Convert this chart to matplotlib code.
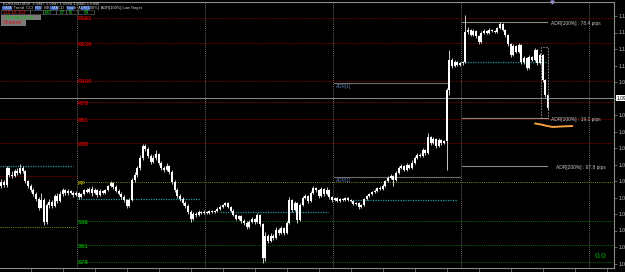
import matplotlib
matplotlib.use("Agg")
import matplotlib.pyplot as plt
import matplotlib.transforms as mtransforms
from matplotlib.patches import Rectangle

plt.rcParams['font.family'] = ['Liberation Sans', 'DejaVu Sans']

# ---------------- data ----------------
first_open = 1.0788
closes = [
    1.0796, 1.0790, 1.0824, 1.0810, 1.0808, 1.0818, 1.0814, 1.0824, 1.0818, 1.0798,
    1.0788, 1.0780, 1.0772, 1.0762, 1.0744, 1.0760, 1.0716, 1.0750, 1.0756, 1.0748,
    1.0768, 1.0758, 1.0772, 1.0780, 1.0774, 1.0778, 1.0774, 1.0770, 1.0774,
    1.0766, 1.0772, 1.0780, 1.0776, 1.0782, 1.0774, 1.0780, 1.0770, 1.0778, 1.0774,
    1.0780, 1.0788, 1.0794, 1.0786, 1.0778, 1.0772, 1.0766, 1.0760, 1.0748, 1.0760,
    1.0800, 1.0810, 1.0824, 1.0844, 1.0868, 1.0862, 1.0848, 1.0836, 1.0844, 1.0852,
    1.0834, 1.0824, 1.0820, 1.0828, 1.0816, 1.0796, 1.0780, 1.0768, 1.0762, 1.0754,
    1.0748, 1.0736, 1.0722, 1.0732, 1.0730, 1.0736, 1.0734, 1.0736,
    1.0734, 1.0738, 1.0736, 1.0738, 1.0742, 1.0746, 1.0750, 1.0754, 1.0746, 1.0738,
    1.0730, 1.0722, 1.0728, 1.0718, 1.0714, 1.0706, 1.0716, 1.0722, 1.0716, 1.0730,
    1.0712, 1.0644, 1.0688, 1.0678, 1.0688, 1.0684, 1.0700, 1.0694, 1.0704, 1.0694,
    1.0714, 1.0760, 1.0740, 1.0754, 1.0720, 1.0750, 1.0764, 1.0768, 1.0758, 1.0774,
    1.0784, 1.0780, 1.0768, 1.0782, 1.0772, 1.0780, 1.0766, 1.0760,
    1.0764, 1.0758, 1.0762, 1.0760, 1.0764, 1.0760, 1.0758, 1.0752, 1.0754, 1.0746,
    1.0750, 1.0762, 1.0768, 1.0772, 1.0776, 1.0778, 1.0784, 1.0782, 1.0788, 1.0798,
    1.0804, 1.0808, 1.0800, 1.0814, 1.0824, 1.0828, 1.0820, 1.0830, 1.0824, 1.0834,
    1.0844, 1.0850, 1.0848, 1.0860, 1.0854, 1.0886, 1.0874, 1.0882, 1.0868, 1.0880,
    1.0874, 1.0878, 1.0980, 1.1040, 1.1028, 1.1036, 1.1030, 1.1034,
    1.1036, 1.1096, 1.1100, 1.1090, 1.1098, 1.1088, 1.1076, 1.1094, 1.1098, 1.1094,
    1.1100, 1.1098, 1.1096, 1.1104, 1.1112, 1.1100, 1.1090, 1.1072, 1.1050, 1.1068,
    1.1056, 1.1070, 1.1036, 1.1044, 1.1024, 1.1046, 1.1040, 1.1060, 1.1034, 1.1050,
    1.1000, 1.0970, 1.0944,
]
highs = [
    1.0802, 1.0800, 1.0828, 1.0826, 1.0818, 1.0822, 1.0824, 1.0832, 1.0828, 1.0820,
    1.0800, 1.0792, 1.0784, 1.0776, 1.0766, 1.0774, 1.0764, 1.0754, 1.0762, 1.0760,
    1.0772, 1.0774, 1.0778, 1.0784, 1.0782, 1.0782, 1.0780, 1.0778, 1.0778,
    1.0776, 1.0774, 1.0782, 1.0784, 1.0786, 1.0788, 1.0784, 1.0782, 1.0782, 1.0780,
    1.0782, 1.0790, 1.0798, 1.0796, 1.0790, 1.0782, 1.0776, 1.0770, 1.0762, 1.0764,
    1.0804, 1.0816, 1.0828, 1.0850, 1.0872, 1.0872, 1.0866, 1.0852, 1.0850, 1.0860,
    1.0854, 1.0838, 1.0828, 1.0834, 1.0830, 1.0820, 1.0800, 1.0784, 1.0772, 1.0766,
    1.0758, 1.0752, 1.0740, 1.0736, 1.0736, 1.0740, 1.0738, 1.0740,
    1.0738, 1.0740, 1.0740, 1.0740, 1.0746, 1.0750, 1.0752, 1.0756, 1.0756, 1.0748,
    1.0742, 1.0732, 1.0730, 1.0730, 1.0722, 1.0718, 1.0720, 1.0726, 1.0724, 1.0734,
    1.0732, 1.0714, 1.0696, 1.0692, 1.0694, 1.0692, 1.0706, 1.0704, 1.0708, 1.0706,
    1.0718, 1.0766, 1.0762, 1.0758, 1.0756, 1.0754, 1.0768, 1.0772, 1.0770, 1.0778,
    1.0788, 1.0786, 1.0782, 1.0786, 1.0784, 1.0786, 1.0782, 1.0768,
    1.0766, 1.0766, 1.0764, 1.0764, 1.0766, 1.0766, 1.0762, 1.0760, 1.0756, 1.0756,
    1.0752, 1.0764, 1.0770, 1.0774, 1.0778, 1.0782, 1.0786, 1.0788, 1.0792, 1.0800,
    1.0808, 1.0812, 1.0810, 1.0818, 1.0828, 1.0832, 1.0830, 1.0834, 1.0832, 1.0840,
    1.0848, 1.0854, 1.0854, 1.0864, 1.0862, 1.0894, 1.0888, 1.0886, 1.0884, 1.0884,
    1.0882, 1.0880, 1.0984, 1.1060, 1.1044, 1.1040, 1.1038, 1.1036,
    1.1038, 1.1130, 1.1106, 1.1102, 1.1102, 1.1100, 1.1090, 1.1098, 1.1102, 1.1100,
    1.1104, 1.1102, 1.1100, 1.1106, 1.1116, 1.1114, 1.1102, 1.1092, 1.1074, 1.1072,
    1.1070, 1.1074, 1.1072, 1.1048, 1.1046, 1.1050, 1.1048, 1.1064, 1.1062, 1.1054,
    1.1052, 1.1002, 1.0972,
]
lows = [
    1.0784, 1.0786, 1.0786, 1.0806, 1.0804, 1.0806, 1.0810, 1.0812, 1.0814, 1.0794,
    1.0784, 1.0776, 1.0768, 1.0758, 1.0740, 1.0744, 1.0710, 1.0712, 1.0744, 1.0744,
    1.0746, 1.0754, 1.0756, 1.0768, 1.0770, 1.0770, 1.0772, 1.0766, 1.0768,
    1.0762, 1.0764, 1.0770, 1.0774, 1.0774, 1.0768, 1.0772, 1.0766, 1.0768, 1.0772,
    1.0772, 1.0778, 1.0786, 1.0782, 1.0776, 1.0770, 1.0762, 1.0756, 1.0744, 1.0746,
    1.0758, 1.0796, 1.0806, 1.0820, 1.0840, 1.0858, 1.0844, 1.0832, 1.0834, 1.0840,
    1.0830, 1.0820, 1.0816, 1.0818, 1.0812, 1.0792, 1.0776, 1.0764, 1.0758, 1.0750,
    1.0744, 1.0732, 1.0716, 1.0720, 1.0726, 1.0728, 1.0732, 1.0732,
    1.0732, 1.0732, 1.0734, 1.0734, 1.0736, 1.0740, 1.0744, 1.0748, 1.0744, 1.0736,
    1.0728, 1.0720, 1.0720, 1.0714, 1.0710, 1.0702, 1.0704, 1.0714, 1.0712, 1.0714,
    1.0708, 1.0634, 1.0638, 1.0674, 1.0676, 1.0680, 1.0682, 1.0690, 1.0692, 1.0690,
    1.0692, 1.0712, 1.0736, 1.0738, 1.0714, 1.0718, 1.0748, 1.0762, 1.0754, 1.0756,
    1.0772, 1.0776, 1.0764, 1.0766, 1.0768, 1.0770, 1.0762, 1.0756,
    1.0758, 1.0756, 1.0756, 1.0758, 1.0758, 1.0758, 1.0756, 1.0750, 1.0750, 1.0742,
    1.0744, 1.0748, 1.0760, 1.0766, 1.0770, 1.0774, 1.0776, 1.0780, 1.0780, 1.0786,
    1.0796, 1.0802, 1.0788, 1.0798, 1.0812, 1.0822, 1.0818, 1.0818, 1.0822, 1.0822,
    1.0832, 1.0842, 1.0846, 1.0846, 1.0850, 1.0852, 1.0870, 1.0872, 1.0864, 1.0866,
    1.0870, 1.0872, 1.0820, 1.0970, 1.1024, 1.1026, 1.1028, 1.1028,
    1.1030, 1.1034, 1.1092, 1.1088, 1.1088, 1.1084, 1.1072, 1.1074, 1.1092, 1.1092,
    1.1092, 1.1096, 1.1094, 1.1094, 1.1102, 1.1098, 1.1086, 1.1068, 1.1046, 1.1048,
    1.1054, 1.1054, 1.1032, 1.1032, 1.1020, 1.1022, 1.1038, 1.1038, 1.1030, 1.1032,
    1.0996, 1.0966, 1.0940,
]

day_breaks = [28.5, 76.5, 124.5, 172.5, 220.5]
time_ticks = list(range(11, 230, 12))
price_ticks = [1.1128, 1.1095, 1.1062, 1.1029, 1.0996, 1.0963, 1.0930, 1.0897,
               1.0864, 1.0831, 1.0798, 1.0765, 1.0732, 1.0699, 1.0666, 1.0633]
bid_price = 1.0964

pivot_names = ["R161", "R138", "R100", "R78", "R61", "R38", "PP", "S38", "S61", "S78"]
pivot_prices = [1.1124, 1.1074, 1.0998, 1.0956, 1.0922, 1.0874, 1.0796, 1.0718, 1.0670, 1.0636]
pivot_start = [28.5, -0.5, -0.5, 28.5, -0.5, -0.5, 28.5, 28.5, 28.5, 28.5]

prev_red = 1.0808
prev_yellow = 1.0706

cyan_prices = [1.0828, 1.0762, 1.0736, 1.0760, 1.1036]
cyan_from = [-0.5, 28.8, 82.0, 130.8, 172.0]
cyan_to = [26.9, 74.5, 122.5, 170.9, 205.0]

adr1_prices = [1.0994, 1.0806]
adr1_from = [124.8, 124.8]
adr1_to = [167.1, 172.0]

adr_labels = ["ADR[100%] : 78.4 pips", "ADR[100%] : 19.1 pips", "ADR[200%] : 67.8 pips"]
adr_prices = [1.1116, 1.0924, 1.0828]
adr_label_x = [206.1, 206.1, 208.0]

box_x = [202.4, 205.0]
box_p = [1.1066, 1.0924]

highlight_x = [200.1, 202.4, 204.7, 206.7, 209.7, 214.1]
highlight_p = [1.0913, 1.0911, 1.0908, 1.0906, 1.0907, 1.0908]

# ---------------- figure ----------------
fig = plt.figure(figsize=(6.25, 2.72), dpi=100, facecolor='black')
ax = fig.add_axes([0, 4 / 272, 614 / 625, 266 / 272])
ax.set_facecolor('black')
ax.set_xlim(-0.5, 229.7)
ax.set_ylim(1.0624, 1.1156)

# day separators
for xb in day_breaks:
    ax.axvline(xb, color='#8c8c8c', lw=0.6, ls=(0, (1, 1.5)), zorder=1)

# pivot levels
red_c, yel_c, grn_c = '#8a0000', '#8c8c00', '#0a6e0a'
for name, p, s in zip(pivot_names, pivot_prices, pivot_start):
    if name.startswith('R'):
        c, tc = red_c, '#c80000'
    elif name == 'PP':
        c, tc = yel_c, '#a8a000'
    else:
        c, tc = grn_c, '#00a000'
    ax.plot([s, 229.7], [p, p], color=c, lw=0.7, ls=(0, (1, 1.2)), zorder=1)
    ax.text(28.6, p - 0.0002, name, color=tc, fontsize=4.3, fontweight='bold',
            ha='left', va='center', zorder=2)

ax.plot([-0.5, 28.0], [prev_red, prev_red], color=red_c, lw=0.7, ls=(0, (1, 1.2)), zorder=1)
ax.plot([-0.5, 28.0], [prev_yellow, prev_yellow], color=yel_c, lw=0.7, ls=(0, (1, 1.2)), zorder=1)

for p, a, b in zip(cyan_prices, cyan_from, cyan_to):
    ax.plot([a, b], [p, p], color='#1f9a9a', lw=0.9, ls=(0, (1, 1)), zorder=1)

# bid line
ax.axhline(bid_price, color='#8a8a8a', lw=0.7, zorder=1)

# ADR lines
for p, a, b in zip(adr1_prices, adr1_from, adr1_to):
    ax.plot([a, b], [p, p], color='#6e6e6e', lw=0.8, zorder=1)
    ax.text(a + 0.6, p - 0.00025, "ADR[1]", color='#5a7ab4', fontsize=3.4,
            ha='left', va='top', zorder=2)
for lab, p, lx in zip(adr_labels, adr_prices, adr_label_x):
    ax.plot([172.8, 204.6], [p, p], color='#8a8a8a', lw=0.8, zorder=1)
    ax.text(lx, p - 0.0003, lab, color='#c8c8c8', fontsize=3.5,
            ha='left', va='center', zorder=2)

# candles
n = len(closes)
xs = list(range(n))
opens = [first_open] + closes[:-1]
ax.vlines(xs, lows, highs, color='#e8e8e8', lw=0.6, zorder=3)
bottoms = [min(o, c) for o, c in zip(opens, closes)]
heights = [max(abs(c - o), 0.0001) for o, c in zip(opens, closes)]
ax.bar(xs, heights, bottom=bottoms, width=0.75, color='white', edgecolor='none',
       linewidth=0, zorder=4)

# dashed box and orange highlight
ax.add_patch(Rectangle((box_x[0], box_p[1]), box_x[1] - box_x[0], box_p[0] - box_p[1],
                       fill=False, edgecolor='#9a9a9a', lw=0.6, ls=(0, (2, 1.5)), zorder=5))
ax.plot(highlight_x, highlight_p, color='#f0a040', lw=1.4, solid_capstyle='round', zorder=6)

# axes styling
ax.spines['left'].set_visible(False)
for s in ['top', 'right', 'bottom']:
    ax.spines[s].set_color('#8a8a8a')
    ax.spines[s].set_linewidth(0.8)
ax.yaxis.tick_right()
ax.set_yticks(price_ticks)
ax.set_yticklabels(["" if abs(v - bid_price) < 0.0005 else f"{v:.4f}" for v in price_ticks])
ax.tick_params(axis='y', color='#8a8a8a', labelcolor='#c8c8c8', labelsize=3.5,
               length=2, width=0.5, pad=1)
ax.set_xticks(time_ticks)
ax.set_xticklabels([])
ax.tick_params(axis='x', color='#8a8a8a', length=3, width=0.5)

trans = mtransforms.blended_transform_factory(ax.transAxes, ax.transData)
ax.text(1.004, bid_price, f"{bid_price:.4f}", transform=trans, color='black',
        fontsize=3.5, ha='left', va='center', clip_on=False, zorder=10,
        bbox=dict(facecolor='white', edgecolor='none', pad=0.6))

# ---------------- overlay (chart UI) ----------------
ov = fig.add_axes([0, 0, 1, 1])
ov.set_xlim(0, 625)
ov.set_ylim(272, 0)
ov.axis('off')
ov.patch.set_alpha(0)

ov.text(3, 3.8, "EURUSD,M30  1.0947 1.0947 1.0944 1.0946 1.0946", color='#d0d0d0',
        fontsize=3.0, ha='left', va='center')
for a, b in [(2, 12), (35, 41), (50, 58), (67, 74), (81, 90)]:
    ov.add_patch(Rectangle((a, 6.2), b - a, 3.8, color='#2f5fbf', lw=0))
ov.text(3, 8.2, "SMA  Trend  CCI  RSI  BB  MACD  Stoch  ADR[100%]  ADR[100%] Low Target",
        color='#d8d8d8', fontsize=2.9, ha='left', va='center')
for a, b in [(1, 30), (30, 43), (43, 56), (56, 66), (66, 78), (78, 94)]:
    ov.add_patch(Rectangle((a, 10.2), b - a, 4.0, fill=False, edgecolor='#6a6a6a', lw=0.4))
ov.text(3, 12.3, "115 16 103", color='#e02020', fontsize=3.3, ha='left', va='center')
for txt, cx in [("149", 48), ("87", 62), ("76", 70), ("84", 86)]:
    ov.text(cx, 12.3, txt, color='#20d020', fontsize=3.3, ha='center', va='center')
ov.add_patch(Rectangle((1, 14.6), 40, 5.0, color='#7a7a7a', lw=0))
ov.text(20, 17.1, "Breakout on", color='#10c010', fontsize=3.6, ha='center', va='center')
ov.add_patch(Rectangle((1, 20.2), 25, 5.6, color='#7a7a7a', lw=0))
ov.text(12, 23.0, "Channel", color='#d01010', fontsize=3.6, ha='center', va='center')

ov.plot([552], [2.2], marker='v', markersize=2.2, color='#9090c8', lw=0)
ov.text(601, 257, "0.0", color='#00b400', fontsize=6, ha='center', va='center')

fig.savefig("out.png", dpi=100, facecolor='black')
